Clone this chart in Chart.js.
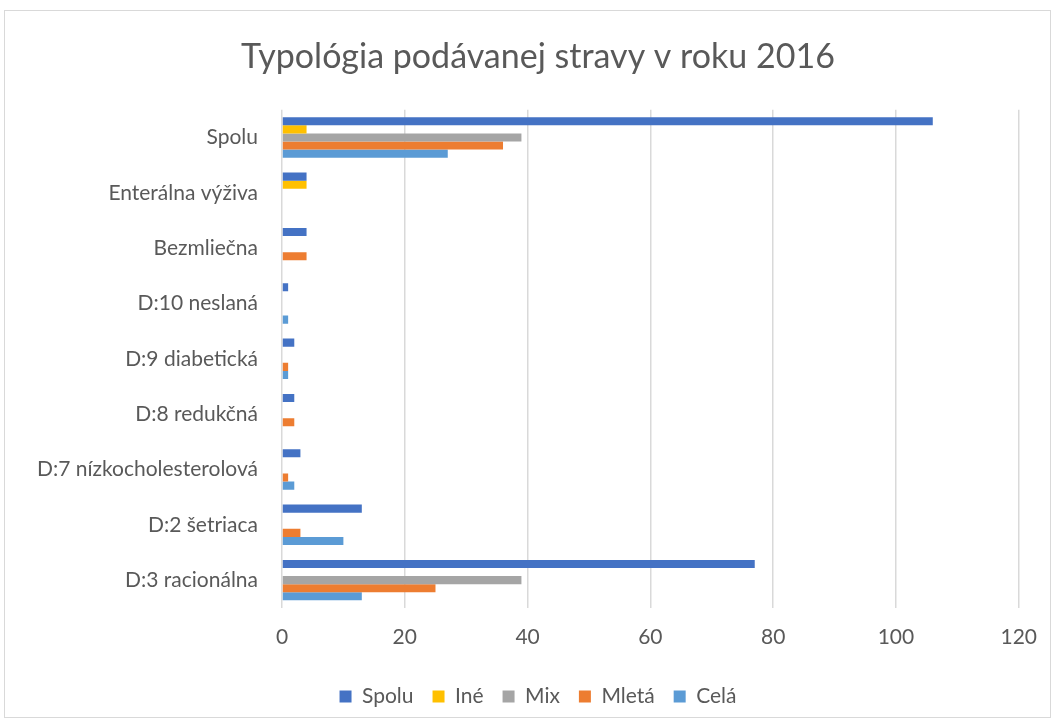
<!DOCTYPE html>
<html>
<head>
<meta charset="utf-8">
<script src="https://cdn.jsdelivr.net/npm/chart.js@4/dist/chart.umd.min.js"></script>
<style>
  html, body { margin: 0; padding: 0; background: #fff; overflow: hidden; }
  #wrap { position: relative; width: 1054px; height: 722px; }
</style>
</head>
<body>
<div id="wrap"><canvas id="c" width="1054" height="722"></canvas></div>
<script>
const categories = ["Spolu", "Enterálna výživa", "Bezmliečna", "D:10 neslaná", "D:9 diabetická", "D:8 redukčná", "D:7 nízkocholesterolová", "D:2 šetriaca", "D:3 racionálna"];
const spolu = [106, 4, 4, 1, 2, 2, 3, 13, 77];
const ine   = [4, 4, 0, 0, 0, 0, 0, 0, 0];
const mix   = [39, 0, 0, 0, 0, 0, 0, 0, 39];
const mleta = [36, 0, 4, 0, 1, 2, 1, 3, 25];
const cela  = [27, 0, 0, 1, 1, 0, 2, 10, 13];
const xTicks = [0, 20, 40, 60, 80, 100, 120];
const seriesNames = ["Spolu", "Iné", "Mix", "Mletá", "Celá"];
const seriesColors = ["#4472C4", "#FFC000", "#A5A5A5", "#ED7D31", "#5B9BD5"];
const seriesData = [spolu, ine, mix, mleta, cela];

const FONT = "Lato, 'Open Sans', sans-serif";
const TXT = "#595959";

const frame = {
  id: 'frame',
  beforeDraw(chart) {
    const ctx = chart.ctx;
    ctx.save();
    ctx.fillStyle = '#fff';
    ctx.fillRect(0, 0, chart.width, chart.height);
    ctx.strokeStyle = '#d9d9d9';
    ctx.lineWidth = 1;
    ctx.strokeRect(4.5, 10.5, 1046, 707);
    ctx.restore();
  }
};

new Chart(document.getElementById('c'), {
  type: 'bar',
  data: {
    labels: categories,
    datasets: seriesNames.map((n, i) => ({
      label: n,
      data: seriesData[i],
      backgroundColor: seriesColors[i],
      borderWidth: 0,
      categoryPercentage: 0.73,
      barPercentage: 1.0
    }))
  },
  options: {
    indexAxis: 'y',
    responsive: false,
    animation: false,
    devicePixelRatio: 1,
    layout: { padding: { left: 56, right: 34, top: 0, bottom: 5 } },
    plugins: {
      title: {
        display: true,
        text: "Typológia podávanej stravy v roku 2016",
        color: TXT,
        font: { family: FONT, size: 34, weight: 'normal' },
        padding: { top: 37, bottom: 32 }
      },
      legend: {
        position: 'bottom',
        labels: {
          color: TXT,
          font: { family: FONT, size: 21 },
          boxWidth: 12,
          boxHeight: 12,
          padding: 19
        }
      },
      tooltip: { enabled: false }
    },
    scales: {
      x: {
        min: 0, max: 120,
        afterBuildTicks(scale) { scale.ticks = xTicks.map(v => ({ value: v })); },
        grid: { color: '#d9d9d9', lineWidth: 1.5, drawTicks: false },
        border: { display: false },
        ticks: { color: TXT, font: { family: FONT, size: 21 }, padding: 17 }
      },
      y: {
        afterFit(scale) {
          scale.width = 226;
          scale._computeLabelArea = () => undefined;
        },
        grid: { display: false, drawTicks: false },
        border: { display: false },
        ticks: { color: TXT, font: { family: FONT, size: 21 }, padding: 24 }
      }
    }
  },
  plugins: [frame]
});
</script>
</body>
</html>
